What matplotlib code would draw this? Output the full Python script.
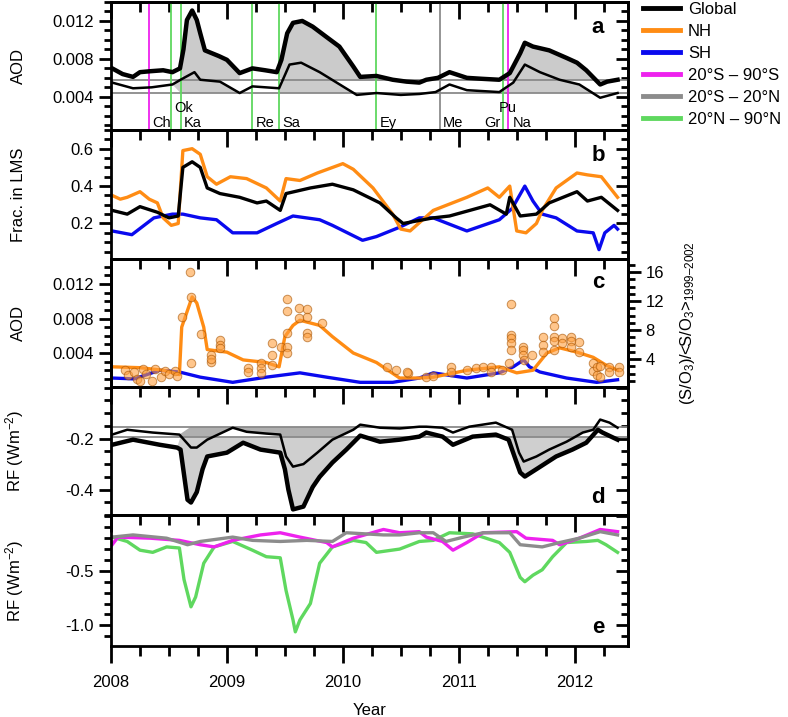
import matplotlib
matplotlib.use('Agg')
import matplotlib.pyplot as plt
from matplotlib.ticker import MultipleLocator, FormatStrFormatter, FixedLocator
from matplotlib.lines import Line2D
import matplotlib.transforms as mtransforms

plt.rcParams['font.family'] = ['Liberation Sans', 'DejaVu Sans']
plt.rcParams['mathtext.fontset'] = 'custom'
plt.rcParams['mathtext.rm'] = 'Liberation Sans'
plt.rcParams['mathtext.it'] = 'Liberation Sans:italic'

ORANGE = '#ff8c14'
BLUE = '#0a0aee'
MAGENTA = '#ee22ee'
GRAY = '#8c8c8c'
GREEN = '#5fd85f'

# ---- panel a: AOD (thick = Global, thin = second estimate)
ta_g = [2008.01, 2008.10, 2008.19, 2008.25, 2008.34, 2008.45, 2008.53, 2008.595, 2008.625, 2008.655,
        2008.70, 2008.74, 2008.77, 2008.81, 2008.85, 2008.93, 2009.0, 2009.11, 2009.22, 2009.33,
        2009.43, 2009.47, 2009.52, 2009.57, 2009.65, 2009.74, 2009.86, 2009.97, 2010.09, 2010.15,
        2010.29, 2010.43, 2010.55, 2010.66, 2010.72, 2010.82, 2010.92, 2011.07, 2011.20, 2011.35,
        2011.44, 2011.53, 2011.57, 2011.64, 2011.78, 2011.93, 2012.02, 2012.10, 2012.22, 2012.28,
        2012.37]
aod_g = [0.0070, 0.0064, 0.0061, 0.0066, 0.0067, 0.0068, 0.0066, 0.0070, 0.0090, 0.0121,
         0.0131, 0.0121, 0.0107, 0.0089, 0.0087, 0.0083, 0.0079, 0.0065, 0.0070, 0.0068,
         0.0066, 0.0079, 0.0107, 0.0118, 0.0120, 0.0114, 0.0103, 0.0093, 0.0072, 0.0061,
         0.0062, 0.0058, 0.0056, 0.0055, 0.0058, 0.0060, 0.0066, 0.0060, 0.0059, 0.0058,
         0.0065, 0.0086, 0.0097, 0.0093, 0.0089, 0.0081, 0.0076, 0.0068, 0.0053, 0.0056,
         0.0058]
ta_t = [2008.01, 2008.19, 2008.35, 2008.53, 2008.60, 2008.72, 2008.77, 2008.94, 2009.11, 2009.22,
        2009.45, 2009.54, 2009.64, 2009.80, 2010.0, 2010.12, 2010.29, 2010.50, 2010.66, 2010.80,
        2010.92, 2011.07, 2011.35, 2011.47, 2011.57, 2011.70, 2011.87, 2012.04, 2012.22, 2012.37]
aod_t = [0.0055, 0.0049, 0.0050, 0.0053, 0.0058, 0.0066, 0.0058, 0.0056, 0.0044, 0.0051,
         0.0049, 0.0074, 0.0076, 0.0066, 0.0051, 0.0042, 0.0044, 0.0042, 0.0043, 0.0045,
         0.0053, 0.0047, 0.0045, 0.0055, 0.0074, 0.0066, 0.0058, 0.0053, 0.0039, 0.0044]
base_a_g = 0.0058
base_a_t = 0.0044
# periods after the major eruptions that are shaded
shade_a = [(2008.60, 2009.12), (2009.45, 2010.45), (2011.44, 2012.46)]
shade_d = [(2008.60, 2009.45), (2009.45, 2010.45), (2011.44, 2012.46)]

# eruptions: name, time, colour, label row (0 low, 1 high), label side
volc_name = ['Ch', 'Ok', 'Ka', 'Re', 'Sa', 'Ey', 'Me', 'Gr', 'Pu', 'Na']
volc_time = [2008.33, 2008.52, 2008.60, 2009.22, 2009.45, 2010.29, 2010.84, 2011.38, 2011.425, 2011.445]
volc_col = [MAGENTA, GREEN, GREEN, GREEN, GREEN, GREEN, GRAY, GREEN, MAGENTA, None]
volc_row = [0, 1, 0, 0, 0, 0, 0, 0, 1, 0]
volc_side = ['left', 'left', 'left', 'left', 'left', 'left', 'left', 'right', 'center', 'left']

# ---- panel b: fraction in LMS
tb_nh = [2008.01, 2008.08, 2008.14, 2008.25, 2008.33, 2008.40, 2008.45, 2008.52, 2008.58, 2008.62,
         2008.70, 2008.77, 2008.83, 2008.91, 2009.03, 2009.17, 2009.34, 2009.46, 2009.51, 2009.63,
         2009.78, 2010.0, 2010.09, 2010.26, 2010.43, 2010.50, 2010.58, 2010.78, 2011.07, 2011.25,
         2011.35, 2011.44, 2011.50, 2011.58, 2011.67, 2011.72, 2011.84, 2012.02, 2012.11, 2012.23,
         2012.37]
frac_nh = [0.35, 0.33, 0.34, 0.37, 0.33, 0.31, 0.23, 0.19, 0.20, 0.59,
           0.60, 0.57, 0.45, 0.41, 0.45, 0.44, 0.39, 0.32, 0.44, 0.43,
           0.47, 0.52, 0.49, 0.39, 0.25, 0.17, 0.16, 0.27, 0.34, 0.39,
           0.34, 0.40, 0.16, 0.15, 0.20, 0.27, 0.39, 0.47, 0.46, 0.45,
           0.34]
tb_gl = [2008.01, 2008.14, 2008.25, 2008.40, 2008.50, 2008.58, 2008.62, 2008.70, 2008.77, 2008.83,
         2008.94, 2009.11, 2009.26, 2009.34, 2009.46, 2009.51, 2009.72, 2009.91, 2010.09, 2010.32,
         2010.46, 2010.52, 2010.78, 2010.92, 2011.27, 2011.41, 2011.44, 2011.53, 2011.67, 2011.78,
         2012.02, 2012.11, 2012.23, 2012.37]
frac_gl = [0.27, 0.25, 0.29, 0.26, 0.23, 0.24, 0.50, 0.53, 0.50, 0.39,
           0.36, 0.34, 0.31, 0.32, 0.27, 0.36, 0.39, 0.41, 0.38, 0.31,
           0.23, 0.20, 0.23, 0.24, 0.30, 0.25, 0.34, 0.24, 0.25, 0.31,
           0.37, 0.32, 0.34, 0.27]
tb_sh = [2008.01, 2008.18, 2008.37, 2008.53, 2008.62, 2008.77, 2008.91, 2009.05, 2009.26, 2009.43,
         2009.57, 2009.80, 2009.91, 2010.17, 2010.29, 2010.49, 2010.66, 2010.78, 2011.07, 2011.35,
         2011.46, 2011.57, 2011.64, 2011.72, 2011.84, 2012.02, 2012.16, 2012.21, 2012.26, 2012.34,
         2012.37]
frac_sh = [0.16, 0.14, 0.23, 0.25, 0.25, 0.23, 0.22, 0.15, 0.15, 0.20,
           0.24, 0.22, 0.19, 0.11, 0.13, 0.18, 0.23, 0.23, 0.16, 0.22,
           0.28, 0.40, 0.32, 0.25, 0.23, 0.16, 0.15, 0.06, 0.15, 0.19,
           0.17]

# ---- panel c: hemispheric AOD and normalised S/O3 observations
tc_nh = [2008.01, 2008.25, 2008.45, 2008.59, 2008.61, 2008.70, 2008.74, 2008.80, 2008.83, 2009.0,
         2009.14, 2009.34, 2009.45, 2009.50, 2009.57, 2009.63, 2009.80, 2009.91, 2010.09, 2010.29,
         2010.49, 2010.66, 2010.78, 2011.07, 2011.35, 2011.50, 2011.64, 2011.76, 2011.87, 2012.02,
         2012.16, 2012.27, 2012.37]
aod_nh = [0.0024, 0.0023, 0.0020, 0.0015, 0.0070, 0.0105, 0.0098, 0.0070, 0.0044, 0.0041,
          0.0032, 0.0029, 0.0024, 0.0059, 0.0072, 0.0078, 0.0072, 0.0059, 0.0040, 0.0029,
          0.0011, 0.0011, 0.0012, 0.0020, 0.0024, 0.0017, 0.0020, 0.0040, 0.0046, 0.0041,
          0.0035, 0.0026, 0.0020]
tc_sh = [2008.01, 2008.20, 2008.42, 2008.59, 2008.77, 2009.05, 2009.34, 2009.63, 2009.86, 2010.15,
         2010.43, 2010.66, 2010.78, 2011.07, 2011.35, 2011.47, 2011.56, 2011.61, 2011.70, 2011.93,
         2012.19, 2012.37]
aod_sh = [0.0011, 0.0010, 0.0020, 0.0018, 0.0012, 0.0006, 0.0012, 0.0017, 0.0012, 0.0006,
          0.0006, 0.0011, 0.0017, 0.0011, 0.0017, 0.0024, 0.0032, 0.0024, 0.0018, 0.0011,
          0.0006, 0.0009]
obs_t = [2008.12, 2008.15, 2008.20, 2008.22, 2008.25, 2008.28, 2008.30, 2008.35, 2008.38, 2008.43,
         2008.47, 2008.50, 2008.55, 2008.57, 2008.68, 2008.69, 2008.61, 2008.69, 2008.78, 2008.86,
         2008.86, 2008.86, 2008.94, 2008.94, 2008.94, 2009.18, 2009.18, 2009.29, 2009.29, 2009.29,
         2009.39, 2009.39, 2009.39, 2009.47, 2009.52, 2009.52, 2009.52, 2009.52, 2009.52, 2009.62,
         2009.69, 2009.62, 2009.69, 2009.82, 2009.69, 2009.69, 2010.38, 2010.46, 2010.56, 2010.55,
         2010.72, 2010.78, 2010.93, 2010.93, 2011.07, 2011.15, 2011.21, 2011.28, 2011.28, 2011.37,
         2011.43, 2011.45, 2011.45, 2011.45, 2011.45, 2011.45, 2011.55, 2011.55, 2011.55, 2011.63,
         2011.56, 2011.73, 2011.73, 2011.73, 2011.82, 2011.82, 2011.82, 2011.82, 2011.82, 2011.89,
         2011.89, 2011.97, 2011.97, 2011.97, 2012.04, 2012.04, 2012.16, 2012.16, 2012.19, 2012.19,
         2012.22, 2012.22, 2012.30, 2012.30, 2012.38, 2012.38]
obs_r = [2.5, 1.8, 2.2, 1.3, 1.0, 2.6, 2.0, 0.9, 2.6, 1.5,
         2.3, 1.9, 2.3, 1.6, 16.0, 12.6, 9.8, 3.4, 7.5, 4.5,
         3.6, 4.0, 6.6, 5.9, 5.5, 2.8, 2.2, 3.4, 2.8, 2.1,
         6.2, 4.5, 3.2, 5.7, 5.7, 4.8, 12.3, 10.6, 7.6, 11.0,
         10.9, 9.7, 9.8, 9.0, 7.6, 7.0, 2.9, 2.5, 2.1, 2.2,
         1.5, 1.6, 2.9, 2.2, 2.5, 2.7, 2.9, 2.9, 2.2, 2.5,
         3.4, 11.6, 7.3, 6.9, 6.2, 5.2, 5.7, 5.2, 4.6, 4.6,
         3.8, 7.0, 6.0, 5.0, 9.7, 8.6, 7.1, 6.5, 5.2, 6.9,
         6.2, 7.0, 6.5, 5.6, 6.3, 5.0, 3.4, 2.4, 2.9, 1.8,
         3.0, 1.5, 2.9, 2.2, 2.9, 2.2]

# ---- panel d: radiative forcing (thin = upper, thick = Global)
td_t = [2008.01, 2008.14, 2008.36, 2008.59, 2008.69, 2008.74, 2008.83, 2009.05, 2009.17, 2009.34,
        2009.46, 2009.51, 2009.57, 2009.66, 2009.78, 2009.91, 2010.09, 2010.15, 2010.32, 2010.49,
        2010.66, 2010.72, 2010.86, 2010.95, 2011.09, 2011.32, 2011.46, 2011.52, 2011.56, 2011.67,
        2011.78, 2011.93, 2012.07, 2012.16, 2012.22, 2012.30, 2012.37]
rf_t = [-0.184, -0.165, -0.176, -0.184, -0.235, -0.235, -0.204, -0.157, -0.173, -0.180,
        -0.184, -0.270, -0.310, -0.300, -0.255, -0.204, -0.165, -0.145, -0.157, -0.160,
        -0.153, -0.153, -0.157, -0.176, -0.153, -0.137, -0.165, -0.255, -0.290, -0.270,
        -0.243, -0.212, -0.176, -0.165, -0.125, -0.137, -0.157]
td_g = [2008.01, 2008.19, 2008.42, 2008.57, 2008.60, 2008.66, 2008.69, 2008.74, 2008.79, 2008.83,
        2009.0, 2009.14, 2009.29, 2009.46, 2009.50, 2009.53, 2009.57, 2009.66, 2009.74, 2009.80,
        2009.91, 2010.03, 2010.15, 2010.32, 2010.49, 2010.66, 2010.72, 2010.86, 2010.95, 2011.12,
        2011.32, 2011.43, 2011.49, 2011.53, 2011.57, 2011.69, 2011.84, 2011.98, 2012.10, 2012.20,
        2012.24, 2012.37]
rf_g = [-0.224, -0.204, -0.224, -0.235, -0.243, -0.440, -0.451, -0.410, -0.320, -0.270,
        -0.255, -0.216, -0.243, -0.255, -0.320, -0.400, -0.478, -0.467, -0.390, -0.350,
        -0.294, -0.243, -0.188, -0.212, -0.204, -0.192, -0.176, -0.192, -0.224, -0.192,
        -0.184, -0.204, -0.282, -0.333, -0.349, -0.314, -0.270, -0.243, -0.216, -0.165,
        -0.176, -0.204]
base_d_t = -0.153
base_d_g = -0.192

# ---- panel e: RF by latitude band
te_n = [2008.01, 2008.14, 2008.25, 2008.36, 2008.48, 2008.59, 2008.63, 2008.69, 2008.73, 2008.80,
        2008.89, 2009.05, 2009.22, 2009.34, 2009.46, 2009.51, 2009.57, 2009.59, 2009.63, 2009.72,
        2009.80, 2009.91, 2010.09, 2010.20, 2010.29, 2010.49, 2010.66, 2010.78, 2010.92, 2011.12,
        2011.35, 2011.44, 2011.53, 2011.57, 2011.64, 2011.72, 2011.81, 2011.93, 2012.10, 2012.20,
        2012.27, 2012.37]
rf_n = [-0.19, -0.23, -0.31, -0.33, -0.28, -0.29, -0.58, -0.83, -0.74, -0.43,
        -0.28, -0.23, -0.31, -0.37, -0.38, -0.68, -0.95, -1.06, -0.95, -0.80,
        -0.43, -0.28, -0.22, -0.24, -0.33, -0.30, -0.23, -0.22, -0.15, -0.16,
        -0.24, -0.33, -0.56, -0.60, -0.54, -0.49, -0.37, -0.24, -0.23, -0.22,
        -0.26, -0.33]
te_s = [2008.01, 2008.06, 2008.34, 2008.59, 2008.77, 2008.89, 2009.05, 2009.29, 2009.46, 2009.63,
        2009.86, 2009.91, 2010.09, 2010.35, 2010.49, 2010.66, 2010.72, 2010.86, 2010.95, 2011.07,
        2011.21, 2011.50, 2011.58, 2011.81, 2011.87, 2012.04, 2012.22, 2012.37]
rf_s = [-0.26, -0.19, -0.20, -0.22, -0.26, -0.28, -0.22, -0.17, -0.15, -0.19,
        -0.24, -0.28, -0.20, -0.12, -0.15, -0.14, -0.19, -0.23, -0.31, -0.24,
        -0.15, -0.14, -0.20, -0.22, -0.26, -0.20, -0.12, -0.14]
te_tr = [2008.01, 2008.19, 2008.48, 2008.66, 2008.77, 2009.05, 2009.22, 2009.46, 2009.69, 2009.91,
         2010.03, 2010.35, 2010.49, 2010.66, 2010.78, 2010.89, 2011.04, 2011.21, 2011.44, 2011.53,
         2011.72, 2011.87, 2012.04, 2012.22, 2012.37]
rf_tr = [-0.19, -0.17, -0.20, -0.26, -0.23, -0.19, -0.22, -0.23, -0.22, -0.23,
         -0.15, -0.17, -0.17, -0.15, -0.15, -0.23, -0.19, -0.15, -0.15, -0.26,
         -0.28, -0.24, -0.20, -0.14, -0.17]

years = [2008, 2009, 2010, 2011, 2012]


def in_periods(t, periods):
    return any(a <= t <= b for a, b in periods)


def shade(ax, t, v, base, periods, color, above=True):
    mask = [in_periods(ti, periods) and ((vi > base) if above else (vi < base)) for ti, vi in zip(t, v)]
    ax.fill_between(t, v, base, where=mask, interpolate=True, color=color, lw=0)


def style_axes(ax, major, minor, labels=None, fmt='%.1f', bottom=False):
    for s in ax.spines.values():
        s.set_linewidth(2)
    ax.set_xlim(2008.0, 2012.46)
    if labels is None:
        ax.yaxis.set_major_locator(MultipleLocator(major))
    else:
        ax.yaxis.set_major_locator(FixedLocator(labels))
    ax.yaxis.set_minor_locator(MultipleLocator(minor))
    ax.yaxis.set_major_formatter(FormatStrFormatter(fmt))
    ax.tick_params(axis='y', which='both', direction='out', width=2, labelsize=12, left=True, right=False)
    ax.tick_params(axis='y', which='major', length=9)
    ax.tick_params(axis='y', which='minor', length=5)
    ax.xaxis.set_major_locator(FixedLocator(years))
    ax.xaxis.set_minor_locator(MultipleLocator(0.25))
    if bottom:
        ax.tick_params(axis='x', which='both', direction='out', width=2, labelsize=12, top=False)
        ax.tick_params(axis='x', which='major', length=12, pad=9)
        ax.tick_params(axis='x', which='minor', length=7)
    else:
        ax.tick_params(axis='x', which='both', bottom=False, labelbottom=False, top=False)
    sx = ax.secondary_xaxis('top')
    sx.xaxis.set_major_locator(FixedLocator(years))
    sx.xaxis.set_minor_locator(MultipleLocator(0.25))
    sx.tick_params(axis='x', which='both', direction='in', width=2, labeltop=False)
    sx.tick_params(axis='x', which='major', length=12)
    sx.tick_params(axis='x', which='minor', length=7)
    sx.spines['top'].set_linewidth(2)


def right_inner(ax, major, minor):
    sy = ax.secondary_yaxis('right')
    sy.yaxis.set_major_locator(MultipleLocator(major))
    sy.yaxis.set_minor_locator(MultipleLocator(minor))
    sy.tick_params(axis='y', which='both', direction='in', width=2, labelright=False)
    sy.tick_params(axis='y', which='major', length=9)
    sy.tick_params(axis='y', which='minor', length=5)
    sy.spines['right'].set_linewidth(2)


fig = plt.figure(figsize=(7.88, 7.17), dpi=100)
W, H = 788.0, 717.0
left = 111 / W
width = (628 - 111) / W
edges = [2, 130, 259, 387, 515, 646]
axs = []
for i in range(5):
    top, bot = edges[i], edges[i + 1]
    axs.append(fig.add_axes([left, 1 - bot / H, width, (bot - top) / H]))
ax_a, ax_b, ax_c, ax_d, ax_e = axs

# panel a
ax = ax_a
ax.set_ylim(0.0005, 0.014)
shade(ax, ta_t, aod_t, base_a_t, shade_a, '#cbcbcb', above=True)
shade(ax, ta_g, aod_g, base_a_g, shade_a, '#cbcbcb', above=True)
ax.axhline(base_a_g, color='#8a8a8a', lw=1.3)
ax.axhline(base_a_t, color='#8a8a8a', lw=1.3)
tr = mtransforms.blended_transform_factory(ax.transData, ax.transAxes)
for name, t, c, row, side in zip(volc_name, volc_time, volc_col, volc_row, volc_side):
    if c is not None:
        ax.axvline(t, color=c, lw=1.3)
    y = 0.17 if row == 1 else 0.055
    dx = {'left': 0.025, 'right': -0.02, 'center': -0.005}[side]
    ax.text(t + dx, y, name, transform=tr, ha=side, va='center', fontsize=10.5)
ax.plot(ta_t, aod_t, color='black', lw=1.8)
ax.plot(ta_g, aod_g, color='black', lw=3.2)
style_axes(ax, 0.004, 0.001, labels=[0.004, 0.008, 0.012], fmt='%.3f')
right_inner(ax, 0.004, 0.001)
ax.set_ylabel('AOD', fontsize=12)

# panel b
ax = ax_b
ax.set_ylim(0.01, 0.70)
ax.plot(tb_sh, frac_sh, color=BLUE, lw=2.4)
ax.plot(tb_nh, frac_nh, color=ORANGE, lw=2.4)
ax.plot(tb_gl, frac_gl, color='black', lw=2.4)
style_axes(ax, 0.2, 0.05, labels=[0.2, 0.4, 0.6])
right_inner(ax, 0.2, 0.05)
ax.set_ylabel('Frac. in LMS', fontsize=12)

# panel c
ax = ax_c
ax.set_ylim(0.00006, 0.0149)
ax.plot(tc_sh, aod_sh, color=BLUE, lw=2.4)
ax.plot(tc_nh, aod_nh, color=ORANGE, lw=2.4)
style_axes(ax, 0.004, 0.001, labels=[0.004, 0.008, 0.012], fmt='%.3f')
ax.set_ylabel('AOD', fontsize=12)
tw = ax.twinx()
tw.set_ylim(0.14, 17.8)
tw.scatter(obs_t, obs_r, s=38, facecolor='#ffa040', edgecolor='#a65200', alpha=0.6, lw=0.7, zorder=3)
tw.yaxis.set_major_locator(FixedLocator([4, 8, 12, 16]))
tw.yaxis.set_minor_locator(MultipleLocator(1))
tw.tick_params(axis='y', which='both', direction='out', width=2, labelsize=12)
tw.tick_params(axis='y', which='major', length=9)
tw.tick_params(axis='y', which='minor', length=5)
for s in tw.spines.values():
    s.set_linewidth(2)
tw.set_ylabel('(S/O$_3$)/<S/O$_3$>$_{\\mathrm{1999\u20132002}}$', fontsize=12, labelpad=10)

# panel d
ax = ax_d
ax.set_ylim(-0.5, 0.003)
shade(ax, td_t, rf_t, base_d_t, shade_d, '#b0b0b0', above=False)
shade(ax, td_g, rf_g, base_d_g, shade_d, '#cfcfcf', above=False)
ax.axhline(base_d_t, color='#8a8a8a', lw=1.3)
ax.axhline(base_d_g, color='#8a8a8a', lw=1.3)
ax.plot(td_t, rf_t, color='black', lw=1.8)
ax.plot(td_g, rf_g, color='black', lw=3.2)
style_axes(ax, 0.2, 0.05, labels=[-0.4, -0.2])
right_inner(ax, 0.2, 0.05)
ax.set_ylabel('RF (Wm$^{-2}$)', fontsize=12)

# panel e
ax = ax_e
ax.set_ylim(-1.19, 0.013)
ax.plot(te_n, rf_n, color=GREEN, lw=2.4)
ax.plot(te_s, rf_s, color=MAGENTA, lw=2.4)
ax.plot(te_tr, rf_tr, color=GRAY, lw=2.4)
style_axes(ax, 0.5, 0.1, labels=[-1.0, -0.5], bottom=True)
right_inner(ax, 0.5, 0.1)
ax.set_ylabel('RF (Wm$^{-2}$)', fontsize=12)
ax.xaxis.set_major_formatter(FormatStrFormatter('%d'))
ax.set_xlabel('Year', fontsize=12, labelpad=9)

for ax in axs:
    ax.yaxis.set_label_coords(-0.165, 0.5)

# panel letters
letters = ['a', 'b', 'c', 'd', 'e']
letter_y = [0.80, 0.806, 0.82, 0.133, 0.145]
for ax, l, y in zip(axs, letters, letter_y):
    ax.text(0.942, y, l, transform=ax.transAxes, ha='center', va='center',
            fontsize=16, fontweight='bold')

# legend
leg_labels = ['Global', 'NH', 'SH', '20°S \u2013 90°S', '20°S \u2013 20°N', '20°N \u2013 90°N']
leg_colors = ['black', ORANGE, BLUE, MAGENTA, GRAY, GREEN]
handles = [Line2D([], [], color=c, lw=3.5) for c in leg_colors]
fig.legend(handles, leg_labels, loc='upper left', bbox_to_anchor=(643 / W, 1 - 2 / H),
           frameon=False, fontsize=12, handlelength=2.2, handletextpad=0.5,
           labelspacing=0.42, borderpad=0, borderaxespad=0)

fig.savefig('out.png', dpi=100)
